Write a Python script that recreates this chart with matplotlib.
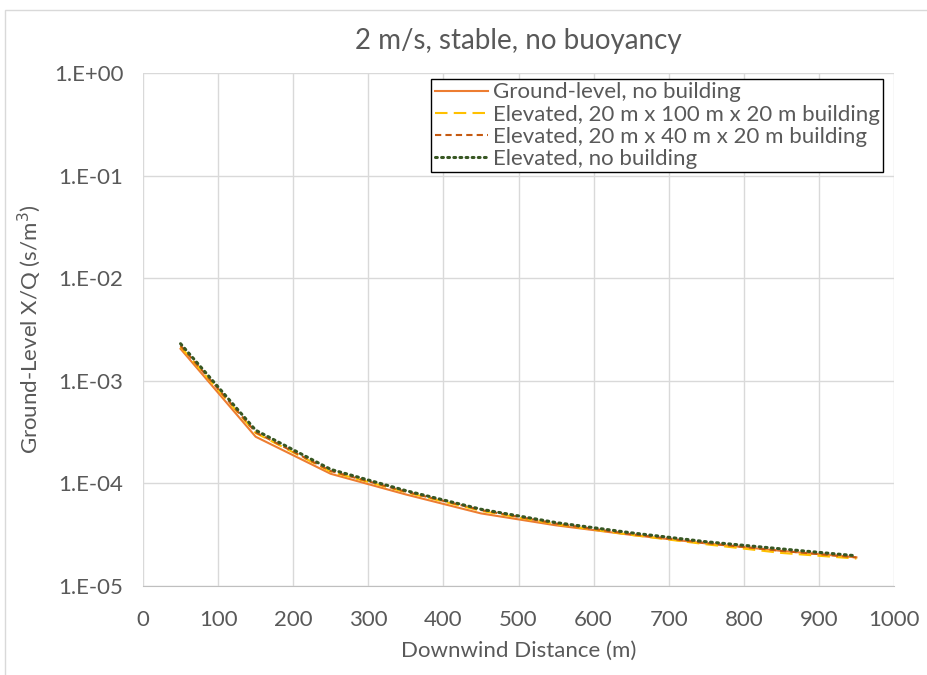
import numpy as np
import matplotlib
matplotlib.use('Agg')
from matplotlib import pyplot as plt
from matplotlib.ticker import FixedLocator, FuncFormatter, NullLocator
from matplotlib.patches import Rectangle

# Data
distance = [50, 150, 250, 350, 450, 550, 650, 750, 850, 950]
ground_no_bldg = [2.05e-3, 2.85e-4, 1.24e-4, 7.8e-5, 5.1e-5, 3.9e-5, 3.15e-5, 2.6e-5, 2.2e-5, 1.9e-5]
elev_bldg_100 = [2.15e-3, 3.1e-4, 1.3e-4, 8.2e-5, 5.4e-5, 4.0e-5, 3.15e-5, 2.55e-5, 2.1e-5, 1.85e-5]
elev_bldg_40 = [2.2e-3, 3.15e-4, 1.32e-4, 8.3e-5, 5.5e-5, 4.05e-5, 3.2e-5, 2.62e-5, 2.2e-5, 1.9e-5]
elev_no_bldg = [2.3e-3, 3.3e-4, 1.37e-4, 8.5e-5, 5.6e-5, 4.15e-5, 3.3e-5, 2.7e-5, 2.3e-5, 1.97e-5]

labels = ['Ground-level, no building',
          'Elevated, 20 m x 100 m x 20 m building',
          'Elevated, 20 m x 40 m x 20 m building',
          'Elevated, no building']
x_ticks = list(range(0, 1001, 100))
y_ticks = [1e-5, 1e-4, 1e-3, 1e-2, 1e-1, 1e0]

TXT = '#595959'
plt.rcParams['font.family'] = ['Lato', 'DejaVu Sans']

fig = plt.figure(figsize=(9.27, 6.75), dpi=100)
ax = fig.add_axes([143/927, 1-586/675, (894-143)/927, (586-73)/675])

ax.plot(distance, ground_no_bldg, color='#ED7D31', lw=1.5, ls='-', label=labels[0])
ax.plot(distance, elev_bldg_100, color='#FFC000', lw=1.5, ls=(0, (6, 3)), label=labels[1])
ax.plot(distance, elev_bldg_40, color='#C55A11', lw=1.5, ls=(0, (3, 2)), label=labels[2])
ax.plot(distance, elev_no_bldg, color='#385723', lw=2.2, ls=(0, (0.6, 1.4)),
        dash_capstyle='round', label=labels[3])

ax.set_yscale('log')
ax.set_xlim(0, 1000)
ax.set_ylim(1e-5, 1e0)
ax.xaxis.set_major_locator(FixedLocator(x_ticks))
ax.yaxis.set_major_locator(FixedLocator(y_ticks))
ax.yaxis.set_minor_locator(NullLocator())
ax.yaxis.set_major_formatter(FuncFormatter(lambda v, p: '1.E%+03d' % int(round(np.log10(v)))))

ax.grid(True, color='#D9D9D9', lw=1)
ax.set_axisbelow(True)
for s in ['top', 'right', 'left']:
    ax.spines[s].set_visible(False)
ax.spines['bottom'].set_color('#BFBFBF')
ax.tick_params(length=0, labelsize=16, colors=TXT)
ax.tick_params(axis='x', pad=17)
ax.tick_params(axis='y', pad=14)

ax.set_title('2 m/s, stable, no buoyancy', fontsize=20, color=TXT, pad=17)
ax.set_xlabel('Downwind Distance (m)', fontsize=16, color=TXT, labelpad=8)
ax.set_ylabel('Ground-Level X/Q (s/m$^3$)', fontsize=16, color=TXT, labelpad=8)

leg = ax.legend(loc='upper right', bbox_to_anchor=(0.985, 0.988), fontsize=16,
                frameon=True, fancybox=False, edgecolor='black', framealpha=1,
                handlelength=2.4, handletextpad=0.2, labelspacing=0.1,
                borderpad=0.15, borderaxespad=0)
leg.get_frame().set_linewidth(1.0)
for t in leg.get_texts():
    t.set_color(TXT)

# light frame around the chart area
fig.patches.append(Rectangle((5/927, -0.1), 1.2, 1.1 - 10/675, transform=fig.transFigure,
                             fill=False, edgecolor='#D9D9D9', lw=1))

fig.savefig('out.png', dpi=100)
